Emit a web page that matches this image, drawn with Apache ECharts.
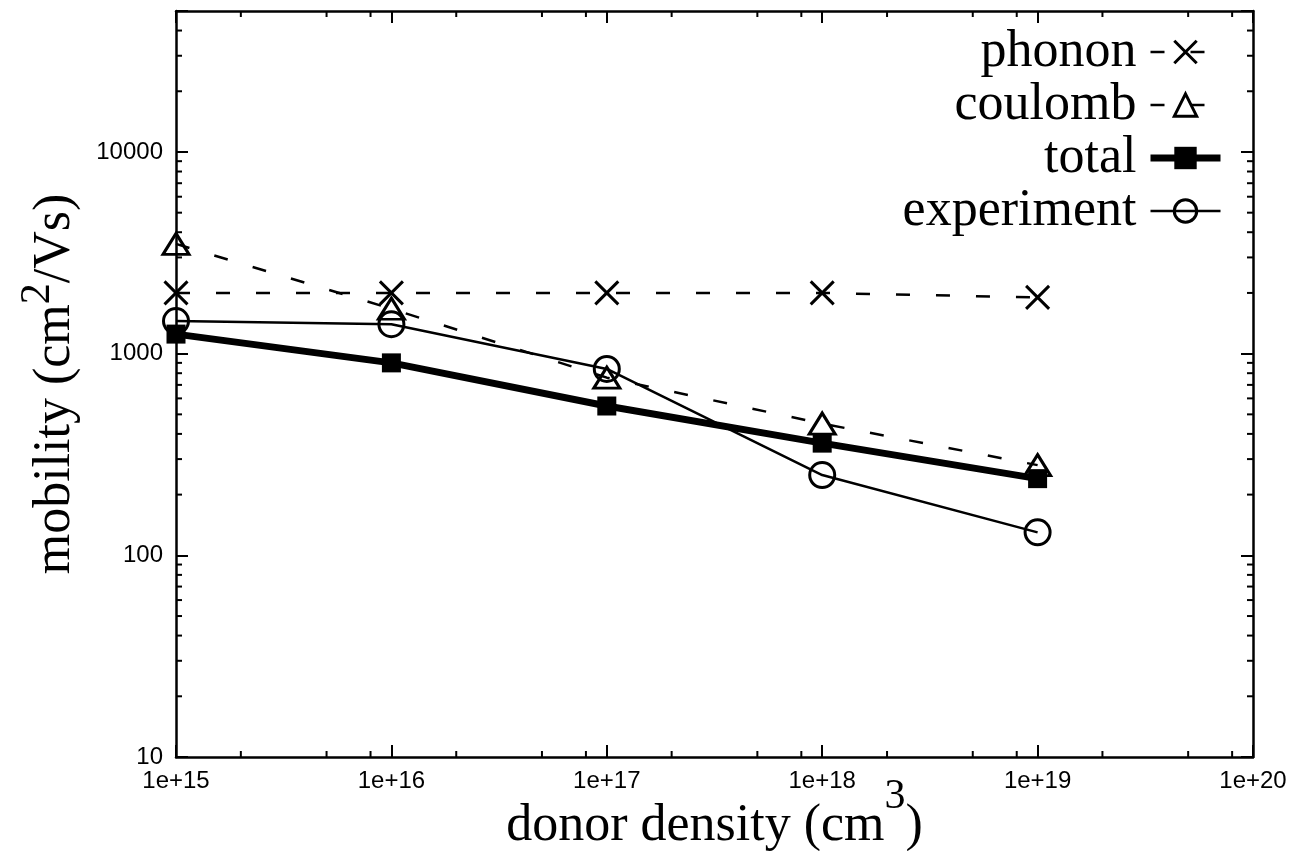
<!DOCTYPE html>
<html>
<head>
<meta charset="utf-8">
<script src="https://cdn.jsdelivr.net/npm/echarts@6/dist/echarts.min.js"></script>
<style>
html,body{margin:0;padding:0;background:#fff}
#main{width:1296px;height:851px}
</style>
</head>
<body>
<div id="main"></div>
<script>
// donor density (x) and mobility values
var density=[1e15,1e16,1e17,1e18,1e19];
var phonon=[2000,2000,2000,2000,1900];
var coulomb=[3500,1670,760,450,280];
var total=[1250,900,550,360,240];
var experiment=[1450,1400,840,250,130];

var xMin=1e15, xMax=1e20, yMin=10, yMax=50000;
// minor ticks: x only has 2,5,8 per decade, y has 2..9
var xMinorMul=[2,5,8];
var yMinorMul=[2,3,4,5,6,7,8,9];

var serif='Liberation Serif';
var sans='Liberation Sans';

function pairs(ys){
    return density.map(function(x,i){return [x,ys[i]];});
}

function minorVals(from,to,muls){
    var out=[];
    for(var d=from;d<to;d*=10){
        for(var k=0;k<muls.length;k++){
            var v=d*muls[k];
            if(v<to) out.push(v);
        }
    }
    return out;
}

function tickSeries(vals,dir){
    return {
        type:'custom',silent:true,clip:false,z:5,
        xAxisIndex:0,yAxisIndex:0,
        data:vals.map(function(v){return dir=='x'?[v,yMin]:[xMin,v];}),
        renderItem:function(params,api){
            var cs=params.coordSys;
            var p=api.coord([api.value(0),api.value(1)]);
            var st={stroke:'#000',lineWidth:2};
            var L=6;
            if(dir=='x'){
                var b=cs.y+cs.height;
                return {type:'group',children:[
                    {type:'line',shape:{x1:p[0],y1:b,x2:p[0],y2:b-L},style:st},
                    {type:'line',shape:{x1:p[0],y1:cs.y,x2:p[0],y2:cs.y+L},style:st}
                ]};
            }
            var r=cs.x+cs.width;
            return {type:'group',children:[
                {type:'line',shape:{x1:cs.x,y1:p[1],x2:cs.x+L,y2:p[1]},style:st},
                {type:'line',shape:{x1:r,y1:p[1],x2:r-L,y2:p[1]},style:st}
            ]};
        }
    };
}

// superscript: main text sits at the bottom of a taller line, sup at its top
function titleRich(lh){
    return {
        t:{fontFamily:serif,fontSize:52,color:'#000',lineHeight:52,verticalAlign:'bottom'},
        sup:{fontFamily:serif,fontSize:42,color:'#000',lineHeight:lh,verticalAlign:'top'}
    };
}

var axisLine={lineStyle:{color:'#000',width:2.5}};
var majorTick={inside:true,length:12,lineStyle:{color:'#000',width:2}};
var dash=[14,26];

var myChart=echarts.init(document.getElementById('main'));
var option={
    animation:false,
    backgroundColor:'#fff',
    grid:{left:176,right:43,top:11,bottom:94,outerBoundsMode:'none',containLabel:false},
    legend:{
        data:[
            {name:'phonon',lineStyle:{width:2.5,type:dash},itemStyle:{borderWidth:3}},
            {name:'coulomb',lineStyle:{width:2.5,type:dash},itemStyle:{borderWidth:3}},
            {name:'total',lineStyle:{width:7},itemStyle:{borderWidth:0}},
            {name:'experiment',lineStyle:{width:2.5},itemStyle:{borderWidth:3}}
        ],
        orient:'vertical',
        right:67,top:21,
        align:'right',
        itemWidth:70,itemHeight:28,itemGap:1,
        textStyle:{fontFamily:serif,fontSize:52,color:'#000',lineHeight:52,padding:[0,9,0,0]}
    },
    xAxis:[{
        type:'log',logBase:10,min:xMin,max:xMax,
        name:'{t|donor density (cm}{sup|3}{t|)}',
        nameLocation:'middle',nameGap:19,nameMoveOverlap:false,
        nameTextStyle:{rich:titleRich(76)},
        axisLine:axisLine,axisTick:majorTick,
        axisLabel:{fontFamily:sans,fontSize:24,color:'#000',margin:12,
            formatter:function(v){return '1e+'+Math.round(Math.log10(v));}},
        splitLine:{show:false}
    },{
        type:'log',logBase:10,min:xMin,max:xMax,position:'top',
        axisLine:axisLine,axisTick:majorTick,axisLabel:{show:false},splitLine:{show:false}
    }],
    yAxis:[{
        type:'log',logBase:10,min:yMin,max:yMax,
        name:'{t|mobility (cm}{sup|2}{t|/Vs)}',
        nameLocation:'middle',nameGap:95,
        nameTextStyle:{rich:titleRich(64)},
        axisLine:axisLine,axisTick:majorTick,
        axisLabel:{fontFamily:sans,fontSize:24,color:'#000',margin:13,
            formatter:function(v){
                var e=Math.log10(v);
                return Math.abs(e-Math.round(e))<1e-6?String(Math.round(v)):'';
            }},
        splitLine:{show:false}
    },{
        type:'log',logBase:10,min:yMin,max:yMax,position:'right',
        axisLine:axisLine,axisTick:majorTick,axisLabel:{show:false},splitLine:{show:false}
    }],
    series:[{
        name:'phonon',type:'line',data:pairs(phonon),
        symbol:'path://M0,0L10,10M10,0L0,10',symbolSize:23,
        itemStyle:{color:'transparent',borderColor:'#000',borderWidth:3},
        lineStyle:{color:'#000',width:2.5,type:dash},z:3
    },{
        name:'coulomb',type:'line',data:pairs(coulomb),
        symbol:'triangle',symbolSize:[26,21],
        itemStyle:{color:'transparent',borderColor:'#000',borderWidth:3},
        lineStyle:{color:'#000',width:2.5,type:dash},z:3
    },{
        name:'total',type:'line',data:pairs(total),
        symbol:'rect',symbolSize:19,
        itemStyle:{color:'#000',borderColor:'#000',borderWidth:0},
        lineStyle:{color:'#000',width:7},z:4
    },{
        name:'experiment',type:'line',data:pairs(experiment),
        symbol:'circle',symbolSize:25,
        itemStyle:{color:'transparent',borderColor:'#000',borderWidth:3},
        lineStyle:{color:'#000',width:2.5},z:3
    },
    tickSeries(minorVals(xMin,xMax,xMinorMul),'x'),
    tickSeries(minorVals(yMin,yMax,yMinorMul),'y')
    ]
};
myChart.setOption(option);
</script>
</body>
</html>
